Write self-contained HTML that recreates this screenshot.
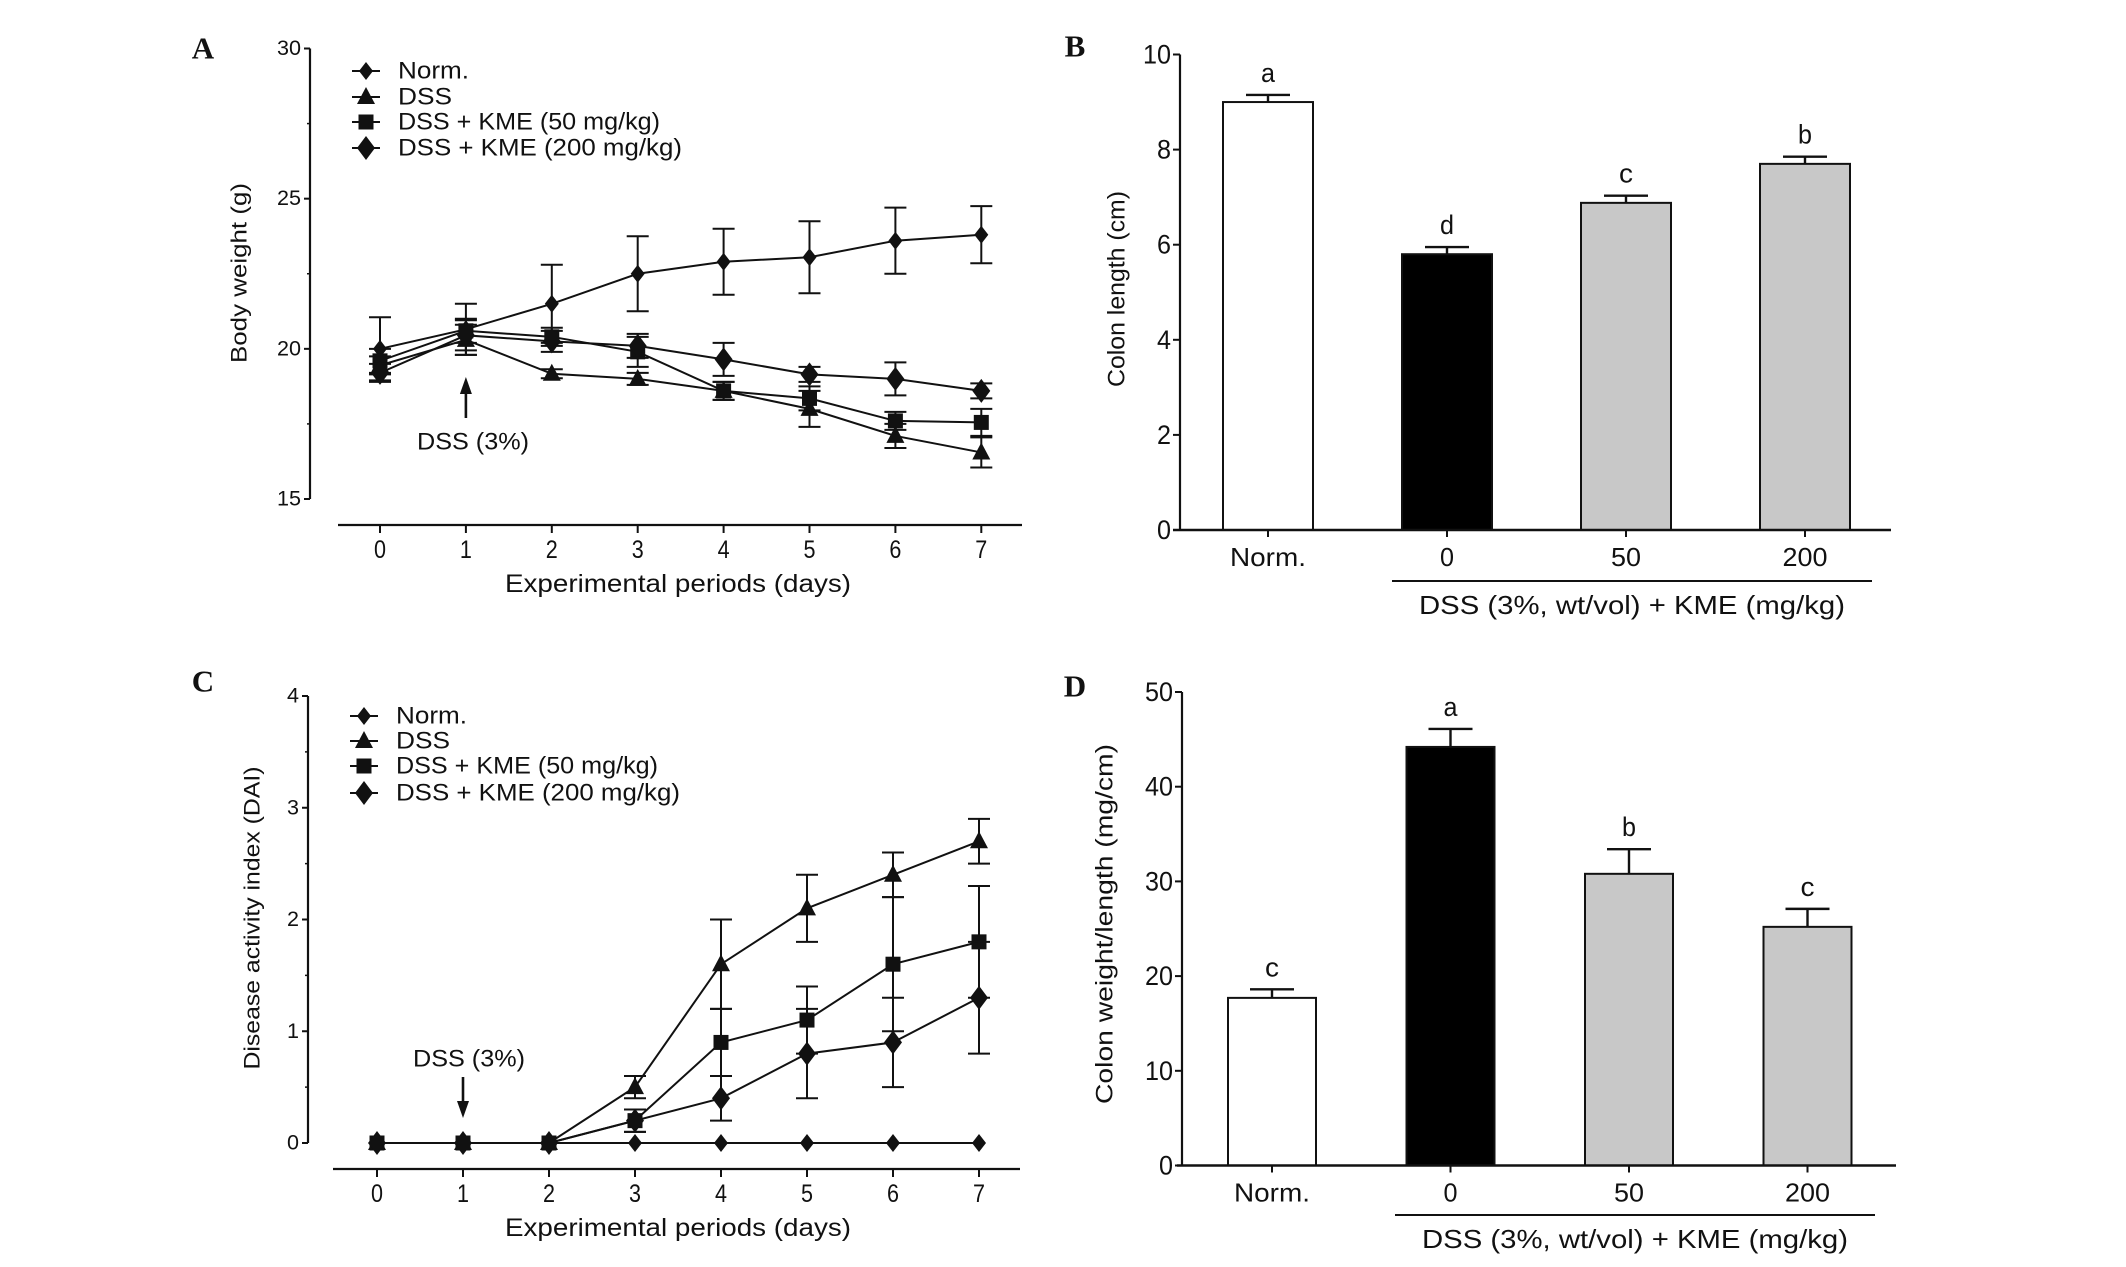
<!DOCTYPE html>
<html><head><meta charset="utf-8"><style>
html,body{margin:0;padding:0;background:#fff;}
svg{display:block;font-family:"Liberation Sans",Arial,sans-serif;}
.pl{font-family:"Liberation Serif",serif;font-weight:bold;font-size:31px;}
</style></head><body>
<svg id="fig" width="2126" height="1267" viewBox="0 0 2126 1267" xmlns="http://www.w3.org/2000/svg"></svg>
<script>
// ---------- data ----------
const days = [0,1,2,3,4,5,6,7];
const lineSeriesNames = ["Norm.","DSS","DSS + KME (50 mg/kg)","DSS + KME (200 mg/kg)"];
const markerShapes = ["sdiamond","triangle","square","diamond"];
// Panel A body weight (g)
const bwNorm = [20.0,20.65,21.5,22.5,22.9,23.05,23.6,23.8];
const bwNormErr = [1.05,0.85,1.3,1.25,1.1,1.2,1.1,0.95];
const bwDSS = [19.45,20.3,19.17,19.0,18.6,18.0,17.1,16.55];
const bwDSSErr = [0.3,0.5,0.15,0.2,0.3,0.6,0.4,0.5];
const bw50 = [19.6,20.6,20.4,19.9,18.6,18.35,17.6,17.55];
const bw50Err = [0.4,0.4,0.3,0.5,0.3,0.4,0.3,0.45];
const bw200 = [19.2,20.45,20.25,20.1,19.65,19.15,19.0,18.6];
const bw200Err = [0.3,0.5,0.35,0.4,0.55,0.25,0.55,0.25];
const bwTicks = [15,20,25,30];
// Panel C DAI
const daiNorm = [0,0,0,0,0,0,0,0];
const daiNormErr = [0,0,0,0,0,0,0,0];
const daiDSS = [0,0,0,0.5,1.6,2.1,2.4,2.7];
const daiDSSErr = [0,0,0,0.1,0.4,0.3,0.2,0.2];
const dai50 = [0,0,0,0.2,0.9,1.1,1.6,1.8];
const dai50Err = [0,0,0,0.1,0.3,0.3,0.6,0.5];
const dai200 = [0,0,0,0.2,0.4,0.8,0.9,1.3];
const dai200Err = [0,0,0,0.1,0.2,0.4,0.4,0.5];
const daiTicks = [0,1,2,3,4];
// Bars
const barCats = ["Norm.","0","50","200"];
const barFills = ["#ffffff","#000000","#c8c8c8","#c8c8c8"];
const clVals = [9.0,5.8,6.88,7.7];
const clErr = [0.15,0.15,0.15,0.15];
const clLetters = ["a","d","c","b"];
const clTicks = [0,2,4,6,8,10];
const cwVals = [17.7,44.2,30.8,25.2];
const cwErr = [0.9,1.9,2.6,1.9];
const cwLetters = ["c","a","b","c"];
const cwTicks = [0,10,20,30,40,50];

// ---------- helpers ----------
const NS="http://www.w3.org/2000/svg";
const svg=document.getElementById('fig');
function mk(tag,attrs,parent){const e=document.createElementNS(NS,tag);for(const k in attrs)e.setAttribute(k,attrs[k]);(parent||svg).appendChild(e);return e;}
function txt(s,x,y,size,anchor,parent,extra){const e=mk('text',Object.assign({x:x,y:y,'font-size':size,'text-anchor':anchor||'middle','dominant-baseline':'central',fill:'#111'},extra||{}),parent);e.textContent=s;return e;}
function group(name){const g=mk('g',{});return g;}
function marker(shape,cx,cy,parent){
  let e;
  if(shape==='sdiamond'){e=mk('polygon',{points:`${cx},${cy-9} ${cx+7},${cy} ${cx},${cy+9} ${cx-7},${cy}`,fill:'#111'},parent);}
  else if(shape==='diamond'){e=mk('polygon',{points:`${cx},${cy-12} ${cx+9},${cy} ${cx},${cy+12} ${cx-9},${cy}`,fill:'#111'},parent);}
  else if(shape==='triangle'){e=mk('polygon',{points:`${cx},${cy-10} ${cx+9},${cy+7} ${cx-9},${cy+7}`,fill:'#111'},parent);}
  else {e=mk('rect',{x:cx-7.5,y:cy-7.5,width:15,height:15,fill:'#111'},parent);}
  return e;
}

// ---------- line chart ----------
function lineChart(cfg){
  const g=group(cfg.name);
  const X=d=>cfg.x0+d*cfg.dx;
  const Y=v=>cfg.yBot-(v-cfg.vMin)/(cfg.vMax-cfg.vMin)*(cfg.yBot-cfg.yTop);
  const lbl=txt(cfg.label,cfg.labelX,cfg.labelY,31,'middle',g,{class:'pl'});
  
  
  const ya=mk('line',{x1:cfg.axX,y1:Y(cfg.vMax),x2:cfg.axX,y2:Y(cfg.vMin),stroke:'#111','stroke-width':2.2},g);
  
  
  cfg.ticks.forEach((t,i)=>{
    mk('line',{x1:cfg.axX-6,y1:Y(t),x2:cfg.axX,y2:Y(t),stroke:'#111','stroke-width':2},g);
    const tl=txt(String(t),cfg.axX-9,Y(t),21,'end',g,{textLength:t>=10?24:12,lengthAdjust:'spacingAndGlyphs'});
    
    
    if(i<cfg.ticks.length-1){const m=(t+cfg.ticks[i+1])/2;mk('line',{x1:cfg.axX-3,y1:Y(m),x2:cfg.axX,y2:Y(m),stroke:'#111','stroke-width':1.5},g);}
  });
  const xa=mk('line',{x1:cfg.xaL,y1:cfg.xaY,x2:cfg.xaR,y2:cfg.xaY,stroke:'#111','stroke-width':2.2},g);
  
  
  days.forEach(d=>{
    mk('line',{x1:X(d),y1:cfg.xaY,x2:X(d),y2:cfg.xaY+8,stroke:'#111','stroke-width':2},g);
    const tl=txt(String(d),X(d),cfg.xaY+25,25,'middle',g,{textLength:12,lengthAdjust:'spacingAndGlyphs'});
    
    
  });
  const xt=txt('Experimental periods (days)',678,cfg.xaY+59,25,'middle',g,{textLength:346,lengthAdjust:'spacingAndGlyphs'});
  
  
  const yt=txt(cfg.yTitle,0,0,22,'middle',g,{transform:`translate(${cfg.ytX},${cfg.ytY}) rotate(-90)`,textLength:cfg.ytLen,lengthAdjust:'spacingAndGlyphs'});
  
  
  // series
  cfg.series.forEach((s,si)=>{
    const sg=group('series-'+['norm','dss','kme-50','kme-200'][si]);
    g.appendChild(sg);
    const pts=s.v.map((v,i)=>`${X(days[i])},${Y(v)}`).join(' ');
    const pl=mk('polyline',{points:pts,fill:'none',stroke:'#111','stroke-width':2},sg);
    
    
    s.v.forEach((v,i)=>{
      const e=s.e[i];
      if(e>0){
        const eb=mk('path',{d:`M${X(days[i])},${Y(v+e)}V${Y(v-e)}M${X(days[i])-11},${Y(v+e)}h22M${X(days[i])-11},${Y(v-e)}h22`,stroke:'#111','stroke-width':2,fill:'none'},sg);
        
        
      }
      const m=marker(markerShapes[si],X(days[i]),Y(v),sg);
      
      
    });
  });
  // legend
  const lg=group('legend');
  g.appendChild(lg);
  lineSeriesNames.forEach((n,i)=>{
    const y=cfg.legY[i];
    const eg=group('legend-entry');
    lg.appendChild(eg);
    mk('line',{x1:cfg.legX-14,y1:y,x2:cfg.legX+14,y2:y,stroke:'#111','stroke-width':2},eg);
    marker(markerShapes[i],cfg.legX,y,eg);
    txt(n,cfg.legX+32,y,24,'start',eg,{textLength:[71,54,262,284][i],lengthAdjust:'spacingAndGlyphs'});
  });
  // arrow
  const ag=group('dss-arrow');
  g.appendChild(ag);
  const ax=X(1);
  if(cfg.arrowUp){
    mk('line',{x1:ax,y1:cfg.arY2,x2:ax,y2:cfg.arY1+8,stroke:'#111','stroke-width':2.6},ag);
    mk('polygon',{points:`${ax},${cfg.arY1} ${ax+6},${cfg.arY1+17} ${ax-6},${cfg.arY1+17}`,fill:'#111'},ag);
  } else {
    mk('line',{x1:ax,y1:cfg.arY1,x2:ax,y2:cfg.arY2-8,stroke:'#111','stroke-width':2.6},ag);
    mk('polygon',{points:`${ax},${cfg.arY2} ${ax+6},${cfg.arY2-17} ${ax-6},${cfg.arY2-17}`,fill:'#111'},ag);
  }
  txt('DSS (3%)',cfg.arTX,cfg.arTY,24,'middle',ag,{textLength:112,lengthAdjust:'spacingAndGlyphs'});
}

lineChart({name:'panel-a-body-weight',label:'A',labelX:203,labelY:48,vMin:15,vMax:30,yTop:48.5,yBot:499,
  axX:310,x0:380,dx:85.9,xaL:338,xaR:1022,xaY:525,ticks:bwTicks,yTitle:'Body weight (g)',ytX:239,ytY:273,ytLen:180,
  series:[{v:bwNorm,e:bwNormErr},{v:bwDSS,e:bwDSSErr},{v:bw50,e:bw50Err},{v:bw200,e:bw200Err}],
  legX:366,legY:[71,97,122,148],arrowUp:true,arY1:377,arY2:418,arTX:473,arTY:442});
lineChart({name:'panel-c-dai',label:'C',labelX:203,labelY:681,vMin:0,vMax:4,yTop:696,yBot:1143,
  axX:308,x0:377,dx:86,xaL:333,xaR:1020,xaY:1169,ticks:daiTicks,yTitle:'Disease activity index (DAI)',ytX:252,ytY:918,ytLen:303,
  series:[{v:daiNorm,e:daiNormErr},{v:daiDSS,e:daiDSSErr},{v:dai50,e:dai50Err},{v:dai200,e:dai200Err}],
  legX:364,legY:[716,741,766,793],arrowUp:false,arY1:1077,arY2:1118,arTX:469,arTY:1059});

// ---------- bar chart ----------
function barChart(cfg){
  const g=group(cfg.name);
  const Y=v=>cfg.yBot-v/cfg.vMax*(cfg.yBot-cfg.yTop);
  const lbl=txt(cfg.label,cfg.labelX,cfg.labelY,31,'middle',g,{class:'pl'});
  
  
  const ya=mk('line',{x1:cfg.axX,y1:Y(cfg.vMax),x2:cfg.axX,y2:Y(0),stroke:'#111','stroke-width':2.2},g);
  
  
  cfg.ticks.forEach(t=>{
    mk('line',{x1:cfg.axX-7,y1:Y(t),x2:cfg.axX,y2:Y(t),stroke:'#111','stroke-width':2},g);
    const s=String(t);
    const tl=txt(s,cfg.axX-9,Y(t),27,'end',g,{textLength:s.length*14,lengthAdjust:'spacingAndGlyphs'});
    
    
  });
  const yt=txt(cfg.yTitle,0,0,24,'middle',g,{transform:`translate(${cfg.ytX},${cfg.ytY}) rotate(-90)`,textLength:cfg.ytLen,lengthAdjust:'spacingAndGlyphs'});
  
  
  barCats.forEach((c,i)=>{
    const cx=cfg.c0+i*cfg.dc, v=cfg.vals[i], e=cfg.err[i];
    const eb=mk('path',{d:`M${cx},${Y(v)}V${Y(v+e)}M${cx-22},${Y(v+e)}h44`,stroke:'#111','stroke-width':2.4,fill:'none'},g);
    
    
    const b=mk('rect',{x:cx-cfg.bw/2,y:Y(v),width:cfg.bw,height:Y(0)-Y(v),fill:barFills[i],stroke:'#111','stroke-width':2},g);
    
    
    const l=txt(cfg.letters[i],cx,Y(v+e)-22,27,'middle',g,{textLength:14,lengthAdjust:'spacingAndGlyphs'});
    
    
    mk('line',{x1:cx,y1:Y(0),x2:cx,y2:Y(0)+7,stroke:'#111','stroke-width':2},g);
    const tl=txt(c,cx,Y(0)+27,26,'middle',g,{textLength:[76,14,30,45][i],lengthAdjust:'spacingAndGlyphs'});
    
    
  });
  const xa=mk('line',{x1:cfg.xaL,y1:Y(0),x2:cfg.xaR,y2:Y(0),stroke:'#111','stroke-width':2.4},g);
  
  
  const br=mk('line',{x1:cfg.brL,y1:cfg.brY,x2:cfg.brR,y2:cfg.brY,stroke:'#111','stroke-width':2},g);
  
  
  const bt=txt('DSS (3%, wt/vol) + KME (mg/kg)',(cfg.brL+cfg.brR)/2,cfg.brY+24,26,'middle',g,{textLength:426,lengthAdjust:'spacingAndGlyphs'});
  
  
}
barChart({name:'panel-b-colon-length',label:'B',labelX:1075,labelY:46,vMax:10,yTop:54.5,yBot:530,axX:1180,
  ticks:clTicks,yTitle:'Colon length (cm)',ytX:1117,ytY:289,ytLen:196,c0:1268,dc:179,bw:90,vals:clVals,err:clErr,letters:clLetters,
  xaL:1173,xaR:1891,brL:1392,brR:1872,brY:581});
barChart({name:'panel-d-colon-weight-length',label:'D',labelX:1075,labelY:686,vMax:50,yTop:692,yBot:1165.5,axX:1182,
  ticks:cwTicks,yTitle:'Colon weight/length (mg/cm)',ytX:1105,ytY:924,ytLen:360,c0:1272,dc:178.5,bw:88,vals:cwVals,err:cwErr,letters:cwLetters,
  xaL:1177,xaR:1896,brL:1395,brR:1875,brY:1215});
</script>
</body></html>
